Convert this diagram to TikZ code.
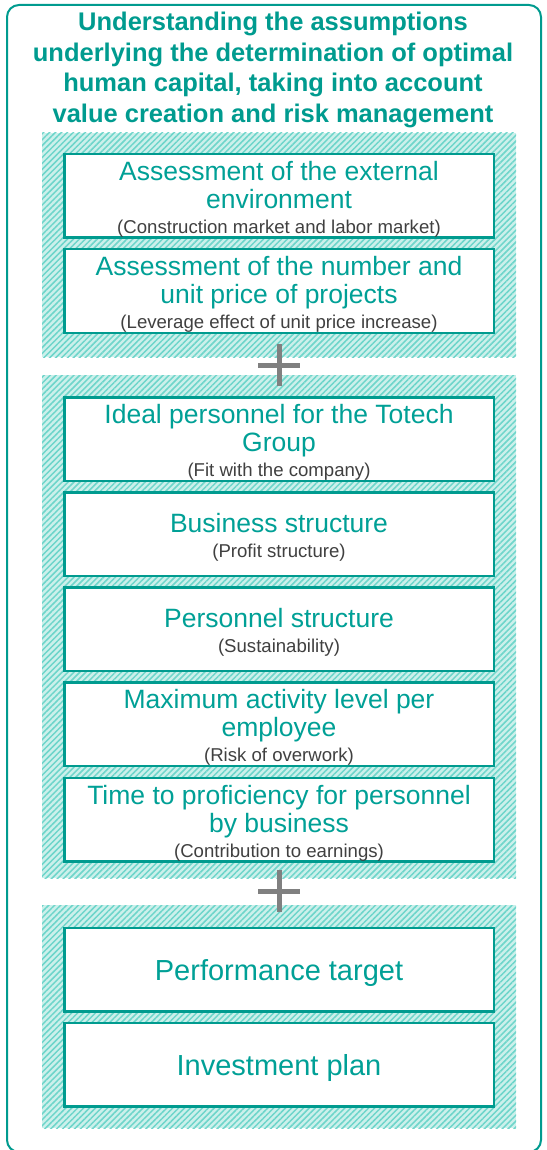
\documentclass[tikz,border=0pt]{standalone}
\usepackage{fontspec}
\setmainfont{Liberation Sans}
\usetikzlibrary{patterns.meta}

\definecolor{frameteal}{HTML}{009B8F}
\definecolor{tealtext}{HTML}{00A096}
\definecolor{subgray}{HTML}{404040}
\definecolor{hatchbg}{HTML}{CCF0EB}
\definecolor{hatchfg}{HTML}{6DD5CA}
\definecolor{plusgray}{HTML}{808080}

% gray second line in a box
\newcommand{\subtxt}[1]{{\fontsize{18.6}{20}\selectfont\color{subgray}#1}}
% extra room above the first line, so the text sits a little low in its box
\newcommand{\toproom}{\rule{0pt}{26.5pt}}
\newcommand{\bigtoproom}{\rule{0pt}{28pt}}

\tikzset{
  panel/.style={draw=none, fill=hatchbg, inner sep=0pt, minimum width=474pt,
    postaction={pattern={Lines[angle=45,distance=4.2pt,line width=1.5pt]}, pattern color=hatchfg}},
  itembox/.style={draw=frameteal, line width=2.5pt, fill=white, inner sep=0pt,
    minimum width=429.5pt, minimum height=83.5pt, align=center, text=tealtext,
    font=\fontsize{26.5}{28}\selectfont},
  bigitem/.style={itembox, font=\fontsize{29}{31}\selectfont},
  plusline/.style={draw=plusgray, line width=5pt},
  headline/.style={align=center, text=frameteal, inner sep=0pt,
    font=\fontsize{25.5}{30.5}\selectfont\bfseries},
}

\begin{document}
\begin{tikzpicture}[x=1pt, y=-1pt]
  \useasboundingbox (0,0) rectangle (546,1150);

  % outer frame
  \draw[frameteal, line width=2pt, rounded corners=12pt] (7,5) rectangle (541,1152);

  % heading
  \node[headline, anchor=north] (title) at (273,12)
    {Understanding the assumptions\\
     underlying the determination of optimal\\
     human capital, taking into account\\
     value creation and risk management};

  % hatched groups
  \node[panel, minimum height=224pt] (p1) at (279,245) {};
  \node[panel, minimum height=503pt] (p2) at (279,626.5) {};
  \node[panel, minimum height=223pt] (p3) at (279,1016.5) {};

  % first group
  \node[itembox] (b1) at (279,196)
    {\toproom Assessment of the external\\environment\\[-3pt]\subtxt{(Construction market and labor market)}};
  \node[itembox] (b2) at (279,291)
    {\toproom Assessment of the number and\\unit price of projects\\[-3pt]\subtxt{(Leverage effect of unit price increase)}};

  % second group
  \node[itembox] (b3) at (279,439)
    {\toproom Ideal personnel for the Totech\\Group\\[-3pt]\subtxt{(Fit with the company)}};
  \node[itembox] (b4) at (279,534)
    {\toproom Business structure\\[-3pt]\subtxt{(Profit structure)}};
  \node[itembox] (b5) at (279,629)
    {\toproom Personnel structure\\[-3pt]\subtxt{(Sustainability)}};
  \node[itembox] (b6) at (279,724)
    {\toproom Maximum activity level per\\employee\\[-3pt]\subtxt{(Risk of overwork)}};
  \node[itembox] (b7) at (279,819.5)
    {\toproom Time to proficiency for personnel\\by business\\[-3pt]\subtxt{(Contribution to earnings)}};

  % third group
  \node[bigitem] (b8) at (279,969.5) {\bigtoproom Performance target};
  \node[bigitem] (b9) at (279,1064.5) {\bigtoproom Investment plan};

  % plus signs between groups
  \coordinate (plus1) at (279,365);
  \coordinate (plus2) at (279,891);
  \foreach \c in {plus1,plus2}{
    \draw[plusline] ([xshift=-21pt]\c) -- ([xshift=21pt]\c);
    \draw[plusline] ([yshift=21pt]\c) -- ([yshift=-21pt]\c);
  }
\end{tikzpicture}
\end{document}
